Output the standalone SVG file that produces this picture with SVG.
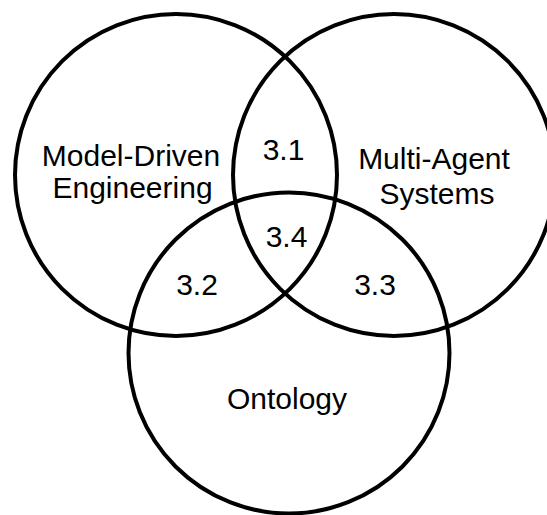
<svg xmlns="http://www.w3.org/2000/svg" width="547" height="515" viewBox="0 0 547 515">
<style>
  .set { fill: none; stroke: #000; stroke-width: 4; }
  .lbl { font-family: "Liberation Sans", Arial, sans-serif; font-size: 30px; fill: #000; text-anchor: middle; }
</style>
<rect width="547" height="515" fill="#fff"/>
<g id="mde">
  <circle class="set" cx="176" cy="175" r="161"/>
  <text class="lbl" x="131" y="165.5">Model-Driven</text>
  <text class="lbl" x="132.5" y="198">Engineering</text>
</g>
<g id="mas">
  <circle class="set" cx="394" cy="175" r="161"/>
  <text class="lbl" x="434" y="168.5">Multi-Agent</text>
  <text class="lbl" x="437" y="204">Systems</text>
</g>
<g id="ontology">
  <circle class="set" cx="289" cy="353" r="160.5"/>
  <text class="lbl" x="287" y="408.5">Ontology</text>
</g>
<g id="r31"><text class="lbl" x="283.5" y="159.5">3.1</text></g>
<g id="r34"><text class="lbl" x="286.5" y="246.5">3.4</text></g>
<g id="r32"><text class="lbl" x="197" y="295">3.2</text></g>
<g id="r33"><text class="lbl" x="375" y="295">3.3</text></g>
<g id="connectors"></g>
</svg>
